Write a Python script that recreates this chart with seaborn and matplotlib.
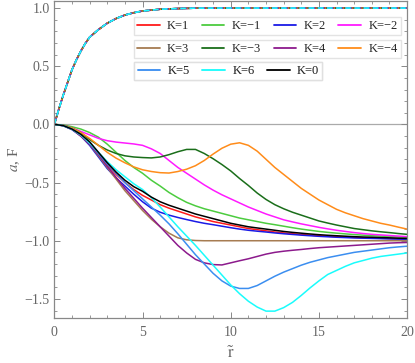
import numpy as np
import pandas as pd
import seaborn as sns
import matplotlib.pyplot as plt
from matplotlib.lines import Line2D
from matplotlib.ticker import MultipleLocator

# radial grid for the a(r) profiles (step 0.5)
r = [0, 0.5, 1, 1.5, 2, 2.5, 3, 3.5, 4, 4.5,
     5, 5.5, 6, 6.5, 7, 7.5, 8, 8.5, 9, 9.5,
     10, 10.5, 11, 11.5, 12, 12.5, 13, 13.5, 14, 14.5,
     15, 15.5, 16, 16.5, 17, 17.5, 18, 18.5, 19, 19.5, 20]

a_k1 = [0, -0.01, -0.04, -0.09, -0.16, -0.25, -0.35, -0.43, -0.50, -0.56,
        -0.61, -0.65, -0.69, -0.72, -0.745, -0.77, -0.795, -0.815, -0.835, -0.85,
        -0.865, -0.88, -0.895, -0.905, -0.915, -0.925, -0.933, -0.94, -0.946, -0.952,
        -0.957, -0.961, -0.965, -0.968, -0.971, -0.974, -0.976, -0.979, -0.981, -0.983, -0.985]
a_km1 = [0, -0.005, -0.02, -0.04, -0.07, -0.11, -0.17, -0.24, -0.31, -0.37,
         -0.42, -0.48, -0.53, -0.585, -0.63, -0.67, -0.70, -0.725, -0.745, -0.765,
         -0.785, -0.805, -0.82, -0.835, -0.85, -0.862, -0.875, -0.888, -0.90, -0.91,
         -0.92, -0.928, -0.935, -0.941, -0.947, -0.952, -0.957, -0.96, -0.963, -0.967, -0.97]
a_k2 = [0, -0.012, -0.045, -0.10, -0.18, -0.28, -0.38, -0.46, -0.53, -0.60,
        -0.665, -0.72, -0.755, -0.78, -0.80, -0.818, -0.835, -0.85, -0.862, -0.875,
        -0.888, -0.90, -0.91, -0.918, -0.925, -0.933, -0.94, -0.946, -0.952, -0.957,
        -0.962, -0.966, -0.97, -0.973, -0.976, -0.978, -0.98, -0.982, -0.984, -0.986, -0.988]
a_km2 = [0, -0.008, -0.03, -0.06, -0.09, -0.12, -0.14, -0.152, -0.16, -0.168,
         -0.18, -0.21, -0.25, -0.31, -0.37, -0.42, -0.47, -0.52, -0.565, -0.605,
         -0.64, -0.675, -0.71, -0.74, -0.77, -0.795, -0.82, -0.838, -0.855, -0.87,
         -0.885, -0.898, -0.91, -0.92, -0.93, -0.938, -0.945, -0.95, -0.955, -0.96, -0.965]
a_k3 = [0, -0.01, -0.04, -0.10, -0.17, -0.27, -0.37, -0.47, -0.57, -0.655,
        -0.74, -0.815, -0.88, -0.935, -0.975, -0.992, -0.998, -1.0, -1.0, -1.0,
        -1.0, -1.0, -1.0, -1.0, -1.0, -1.0, -1.0, -1.0, -1.0, -1.0,
        -1.0, -1.0, -1.0, -1.0, -1.0, -1.0, -1.0, -1.0, -1.0, -1.0, -1.0]
a_km3 = [0, -0.008, -0.03, -0.07, -0.13, -0.18, -0.22, -0.25, -0.27, -0.28,
         -0.285, -0.288, -0.28, -0.26, -0.235, -0.215, -0.215, -0.25, -0.295, -0.345,
         -0.40, -0.465, -0.525, -0.59, -0.645, -0.69, -0.725, -0.755, -0.78, -0.805,
         -0.83, -0.848, -0.865, -0.88, -0.895, -0.905, -0.915, -0.923, -0.93, -0.938, -0.945]
a_k4 = [0, -0.01, -0.04, -0.10, -0.17, -0.26, -0.36, -0.455, -0.55, -0.635,
        -0.72, -0.80, -0.88, -0.96, -1.04, -1.105, -1.16, -1.19, -1.205, -1.208,
        -1.19, -1.172, -1.155, -1.135, -1.115, -1.10, -1.09, -1.082, -1.075, -1.067,
        -1.06, -1.055, -1.05, -1.045, -1.04, -1.035, -1.03, -1.025, -1.02, -1.017, -1.015]
a_km4 = [0, -0.008, -0.03, -0.07, -0.12, -0.18, -0.24, -0.29, -0.33, -0.365,
         -0.39, -0.405, -0.415, -0.418, -0.405, -0.385, -0.355, -0.31, -0.255, -0.205,
         -0.17, -0.158, -0.18, -0.23, -0.30, -0.37, -0.43, -0.49, -0.55, -0.60,
         -0.65, -0.69, -0.73, -0.76, -0.785, -0.81, -0.83, -0.85, -0.865, -0.883, -0.90]
a_k5 = [0, -0.01, -0.04, -0.09, -0.16, -0.25, -0.34, -0.42, -0.50, -0.57,
        -0.64, -0.71, -0.78, -0.855, -0.94, -1.03, -1.12, -1.20, -1.28, -1.345,
        -1.39, -1.41, -1.41, -1.385, -1.345, -1.305, -1.27, -1.24, -1.21, -1.185,
        -1.165, -1.145, -1.13, -1.115, -1.10, -1.09, -1.08, -1.07, -1.06, -1.053, -1.047]
a_k6 = [0, -0.01, -0.04, -0.09, -0.16, -0.24, -0.32, -0.39, -0.45, -0.51,
        -0.56, -0.63, -0.71, -0.795, -0.88, -0.96, -1.04, -1.125, -1.21, -1.295,
        -1.38, -1.455, -1.52, -1.57, -1.605, -1.605, -1.575, -1.53, -1.47, -1.405,
        -1.345, -1.29, -1.255, -1.22, -1.19, -1.17, -1.15, -1.135, -1.125, -1.115, -1.105]
a_k0 = [0, -0.01, -0.04, -0.085, -0.15, -0.24, -0.33, -0.41, -0.48, -0.535,
        -0.575, -0.625, -0.665, -0.695, -0.72, -0.745, -0.77, -0.79, -0.81, -0.83,
        -0.85, -0.865, -0.88, -0.89, -0.90, -0.91, -0.92, -0.928, -0.935, -0.942,
        -0.948, -0.953, -0.957, -0.961, -0.965, -0.968, -0.97, -0.973, -0.975, -0.978, -0.98]

# F(r) profile (all K nearly coincide)
r_f = [0, 0.25, 0.5, 0.75, 1, 1.25, 1.5, 1.75, 2, 2.5, 3, 3.5, 4, 4.5, 5, 6, 7, 8, 10, 12, 15, 20]
f_all = [0, 0.13, 0.25, 0.36, 0.47, 0.555, 0.63, 0.695, 0.75, 0.815, 0.87, 0.91, 0.94,
         0.96, 0.975, 0.99, 0.996, 0.999, 1.0, 1.0, 1.0, 1.0]

labels = ["K=1", "K=\u22121", "K=2", "K=\u22122", "K=3", "K=\u22123", "K=4", "K=\u22124", "K=5", "K=6", "K=0"]
profiles = [a_k1, a_km1, a_k2, a_km2, a_k3, a_km3, a_k4, a_km4, a_k5, a_k6, a_k0]
colors = ["#ff1a1a", "#4ccc3f", "#1a1ae6", "#ff1aff", "#a67c52", "#1a6e1a",
          "#8c1a8c", "#ff8c1a", "#3b8ef0", "#1afcfc", "#000000"]

sns.set_style("ticks")
plt.rcParams["font.family"] = ["Liberation Serif", "DejaVu Serif"]
plt.rcParams["mathtext.fontset"] = "stix"

fig = plt.figure(figsize=(4.15, 3.63), dpi=100)
ax = fig.add_axes([0.131, 0.124, 0.850, 0.873])

# F curves: dashed, overlapping (black underneath, cyan on top)
f_order = [10, 0, 1, 2, 3, 4, 5, 7, 6, 8, 9]
for j, i in enumerate(f_order):
    sns.lineplot(x=r_f, y=f_all, color=colors[i], lw=1.1, ax=ax,
                 linestyle=(j * 0.6, (3.5, 2.5)), estimator=None, sort=False)

# a curves
handles = []
for lab, prof, c in zip(labels, profiles, colors):
    sns.lineplot(x=r, y=prof, color=c, lw=1.1, ax=ax, estimator=None, sort=False)
    handles.append(Line2D([], [], color=c, lw=1.3, label=lab))

ax.axhline(0, color="#aaaaaa", lw=0.9, zorder=0)

ax.set_xlim(0, 20)
ax.set_ylim(-1.664, 1.06)
ax.xaxis.set_major_locator(MultipleLocator(5))
ax.xaxis.set_minor_locator(MultipleLocator(1))
ax.yaxis.set_minor_locator(MultipleLocator(0.1))
ax.set_yticks([-1.5, -1.0, -0.5, 0.0, 0.5, 1.0])
ax.set_yticklabels(["\u22121.5", "\u22121.0", "\u22120.5", "0.0", "0.5", "1.0"])
ax.tick_params(which="both", direction="in", top=True, right=True,
               color="#888888", labelcolor="#666666", labelsize=10)
ax.tick_params(which="major", length=4, width=0.7)
ax.tick_params(which="minor", length=2, width=0.6)
ax.tick_params(axis="x", which="major", pad=6)
for s in ax.spines.values():
    s.set_color("#888888")
    s.set_linewidth(0.9)

ax.set_xlabel(r"$\tilde{\mathrm{r}}$", fontsize=12, color="#666666", labelpad=5)
ax.set_ylabel(r"$a$, F", fontsize=11, color="#666666", labelpad=2)

# three framed legend rows
rows = [(handles[0:4], 0.982, 0.95), (handles[4:8], 0.982, 0.877), (handles[8:11], 0.76, 0.808)]
for hs, xr, yt in rows:
    lg = ax.legend(handles=hs, ncol=len(hs), loc="upper right", bbox_to_anchor=(xr, yt),
                   fontsize=9, frameon=True, fancybox=False, handlelength=1.8,
                   handletextpad=0.6, columnspacing=1.0, borderpad=0.25, borderaxespad=0)
    lg.get_frame().set_edgecolor("#dddddd")
    lg.get_frame().set_linewidth(1.0)
    ax.add_artist(lg)

fig.savefig("out.png", dpi=100)
